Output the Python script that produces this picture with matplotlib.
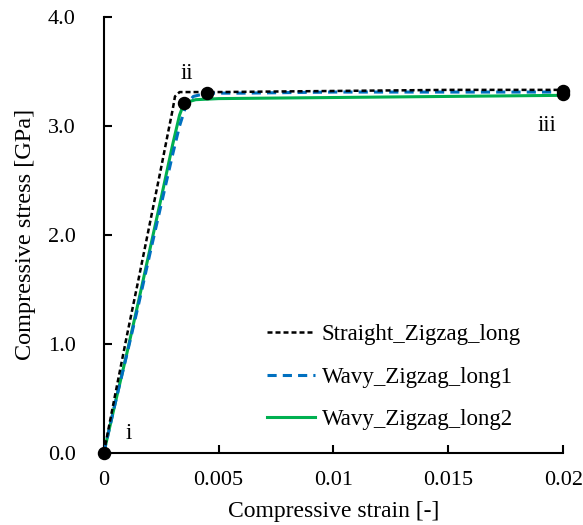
import matplotlib
matplotlib.use("Agg")
import matplotlib.pyplot as plt

plt.rcParams['font.family'] = ['Liberation Serif', 'DejaVu Serif']
plt.rcParams['mathtext.fontset'] = 'stix'

# Data
straight_strain = [0, 0.0005, 0.001, 0.0015, 0.002, 0.0025, 0.0028, 0.0030, 0.0031, 0.0033, 0.005, 0.01, 0.015, 0.02]
straight_stress = [0, 0.54, 1.07, 1.58, 2.10, 2.62, 2.94, 3.15, 3.27, 3.31, 3.31, 3.32, 3.33, 3.33]

wavy1_strain = [0, 0.0005, 0.001, 0.0015, 0.002, 0.0025, 0.003, 0.0033, 0.0036, 0.0039, 0.0045, 0.006, 0.01, 0.015, 0.02]
wavy1_stress = [0, 0.46, 0.90, 1.35, 1.82, 2.28, 2.74, 3.00, 3.20, 3.27, 3.30, 3.30, 3.31, 3.31, 3.31]

wavy2_strain = [0, 0.0005, 0.001, 0.0015, 0.002, 0.0025, 0.003, 0.0033, 0.0035, 0.004, 0.005, 0.01, 0.015, 0.02]
wavy2_stress = [0, 0.46, 0.91, 1.38, 1.86, 2.34, 2.83, 3.10, 3.21, 3.24, 3.25, 3.26, 3.27, 3.28]

marker_strain = [0, 0.00349, 0.00449, 0.02, 0.02]
marker_stress = [0, 3.21, 3.30, 3.32, 3.29]

point_labels = ['i', 'ii', 'iii']
label_strain = [0.0011, 0.0036, 0.0193]
label_stress = [0.18, 3.48, 3.00]

fig = plt.figure(figsize=(5.83, 5.25), dpi=100)
ax = fig.add_axes([0.178, 0.137, 0.788, 0.831])

ax.plot(straight_strain, straight_stress, color='black', linestyle=(0, (2.0, 1.2)), linewidth=1.8,
        label='Straight_Zigzag_long', zorder=4)
ax.plot(wavy1_strain, wavy1_stress, color='#0070C0', linestyle=(0, (3, 2)), linewidth=2.2,
        label='Wavy_Zigzag_long1', zorder=3)
ax.plot(wavy2_strain, wavy2_stress, color='#00B050', linestyle='-', linewidth=2.2,
        label='Wavy_Zigzag_long2', zorder=2)
ax.scatter(marker_strain, marker_stress, s=75, color='black', zorder=5, clip_on=False)

for t, x, y in zip(point_labels, label_strain, label_stress):
    ax.text(x, y, t, fontsize=16.5, ha='center', va='center')

ax.set_xlim(0, 0.02)
ax.set_ylim(0, 4.0)
ax.set_xticks([0, 0.005, 0.01, 0.015, 0.02])
ax.set_xticklabels(['0', '0.005', '0.01', '0.015', '0.02'])
ax.set_yticks([0, 1, 2, 3, 4])
ax.set_yticklabels(['0.0', '1.0', '2.0', '3.0', '4.0'])
ax.tick_params(direction='in', length=6, width=1.5, labelsize=16)
ax.tick_params(axis='x', pad=13)
ax.tick_params(axis='y', pad=20)
for s in ['top', 'right']:
    ax.spines[s].set_visible(False)
for s in ['left', 'bottom']:
    ax.spines[s].set_linewidth(1.5)

ax.set_xlabel('Compressive strain [-]', fontsize=17, labelpad=8)
ax.set_ylabel('Compressive stress [GPa]', fontsize=17.5, labelpad=9)

ax.legend(loc='upper left', bbox_to_anchor=(0.355, 0.295), frameon=False, fontsize=16.5,
          handlelength=2.1, handletextpad=0.3, labelspacing=0.92, borderpad=0, borderaxespad=0)

fig.savefig('out.png', dpi=100)
